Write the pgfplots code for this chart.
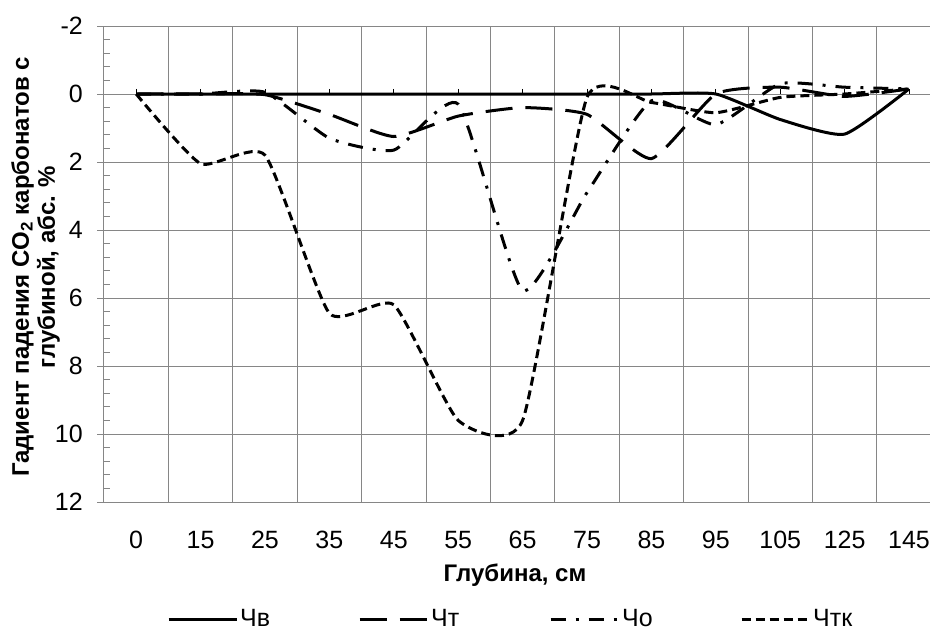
\documentclass[border=0pt]{standalone}
\usepackage{fontspec}
\setmainfont{Liberation Sans}
\usepackage{pgfplots}
\usepackage{pgfplotstable}
\pgfplotsset{compat=1.18}
\definecolor{gridgray}{RGB}{134,134,134}

% depth categories are plotted at 0..12
\pgfplotstableread{
x  chv   cht   cho   chtk
0  0     0     0     0
1  0     0     0     2.05
2  0     0.02  -0.05 1.8
3  0     0.6   1.3   6.45
4  0     1.25  1.65  6.2
5  0     0.65  0.3   9.6
6  0     0.4   5.78  9.6
7  0     0.6   2.9   0.1
8  0     1.9   0.2   0.25
9  0     0.0   0.9   0.55
10 0.75  -0.2  -0.3  0.1
11 1.18  0.07  -0.2  0.0
12 -0.15 -0.15 -0.15 -0.15
}\datatable

\begin{document}
\begin{tikzpicture}[x=1pt,y=1pt]
\begin{axis}[
    at={(0,0)}, anchor=south west,
    scale only axis, width=826pt, height=476pt,
    xmin=-0.5, xmax=12.326,
    ymin=-2, ymax=12, y dir=reverse,
    axis line style={draw=none},
    xtick={0,...,12},
    xticklabels={0,15,25,35,45,55,65,75,85,95,105,125,145},
    minor xtick={-0.5,0.5,...,11.5},
    xminorgrids=true,
    ytick={-2,0,...,12},
    ymajorgrids=true,
    minor y tick num=4,
    grid style={gridgray, line width=1pt},
    major x tick style={draw=none},
    minor x tick style={draw=none},
    y tick style={gridgray, line width=1pt},
    ytick pos=left,
    tick align=outside,
    major tick length=7pt,
    minor tick length=6pt,
    every minor y tick/.append style={xshift=6pt},
    /pgf/number format/assume math mode=true,
    tick label style={font=\fontsize{25}{29}\selectfont},
    xticklabel style={anchor=center, yshift=-31pt},
    yticklabel style={anchor=east, inner sep=0pt, xshift=-14pt},
    legend columns=4,
    legend image code/.code={\draw[#1] (0pt,0pt) -- (68pt,0pt);},
    legend style={draw=none, fill=none, inner sep=0pt,
        at={(axis description cs:0,0)}, anchor=west,
        xshift=63pt, yshift=-117pt,
        font=\fontsize{25}{29}\selectfont,
        nodes={text width=44pt, align=left, inner sep=2pt},
        /tikz/every even column/.append style={column sep=72pt}},
    every axis plot/.append style={black, line width=3pt, smooth, tension=0.32},
]
\addplot[solid] table[x=x, y=chv] {\datatable};
\addplot[dash pattern=on 27pt off 13pt] table[x=x, y=cht] {\datatable};
\addplot[dash pattern=on 15pt off 10pt on 3pt off 10pt] table[x=x, y=cho] {\datatable};
\addplot[dash pattern=on 9pt off 5pt] table[x=x, y=chtk] {\datatable};
\legend{Чв, Чт, Чо, Чтк}
\end{axis}

% small ticks on the zero line at the category centres
\begin{axis}[
    at={(0,0)}, anchor=south west,
    scale only axis, width=826pt, height=476pt,
    xmin=-0.5, xmax=12.326,
    ymin=-2, ymax=12, y dir=reverse,
    axis x line=middle, axis y line=none,
    x axis line style={draw=none},
    xtick={0,...,12}, xticklabels={},
    xtick align=outside, major tick length=5pt,
    x tick style={black, line width=1pt},
]
\end{axis}

\node[rotate=90, align=center, font=\bfseries\fontsize{24}{26}\selectfont]
    at (-68.5pt,235pt) {Гадиент падения CO\textsubscript{2} карбонатов с\\глубиной, абс. \%};
\node[font=\bfseries\fontsize{24}{28}\selectfont] at (411pt,-73pt) {Глубина, см};

\pgfresetboundingbox
\path (-104pt,-135pt) rectangle (826pt,502pt);
\end{tikzpicture}
\end{document}
